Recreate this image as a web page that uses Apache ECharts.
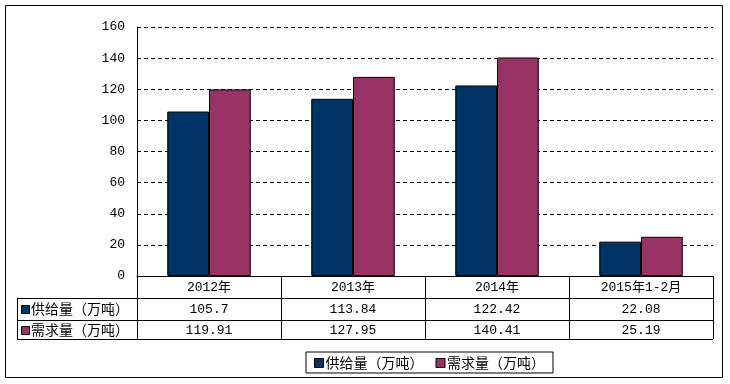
<!DOCTYPE html>
<html><head><meta charset="utf-8">
<script src="https://cdn.jsdelivr.net/npm/echarts@6/dist/echarts.min.js"></script>
<style>html,body{margin:0;padding:0;background:#fff}#c{width:730px;height:384px}</style>
</head><body><div id="c"></div>
<script>
var categories = ['2012年', '2013年', '2014年', '2015年1-2月'];
var supplyName = '供给量（万吨）';
var demandName = '需求量（万吨）';
var supply = [105.7, 113.84, 122.42, 22.08];
var demand = [119.91, 127.95, 140.41, 25.19];
var yTicks = [0, 20, 40, 60, 80, 100, 120, 140, 160];

var C1 = '#003366', C2 = '#993366';
var FONT = '"Liberation Mono","Noto Sans CJK SC",monospace';
var CJK = '"Noto Sans CJK SC",sans-serif';
var GL = 137, GR = 713, GT = 27, GB = 276;
var TL = 17, R1 = 298, R2 = 320, R3 = 339;

var chart = echarts.init(document.getElementById('c'));
function rowAxis(vals, off, margin) {
  return {
    type: 'category', gridIndex: 0, position: 'bottom', offset: off,
    data: vals.map(String),
    axisLine: {show: false}, axisTick: {show: false},
    axisLabel: {color: '#000', fontSize: 13, fontFamily: FONT, margin: margin, interval: 0}
  };
}
chart.setOption({
  animation: false,
  grid: {left: GL, right: 730 - GR, top: GT, bottom: 384 - GB},
  xAxis: [{
    type: 'category', data: categories,
    axisLine: {lineStyle: {color: '#000', width: 1}},
    axisTick: {show: true, length: R3 - GB, lineStyle: {color: '#000'}},
    axisLabel: {color: '#000', fontSize: 13, fontFamily: FONT, margin: 5, interval: 0}
  },
  rowAxis(supply, 22, 5),
  rowAxis(demand, 44, 4)
  ],
  yAxis: {
    type: 'value', min: yTicks[0], max: yTicks[yTicks.length - 1], interval: 20,
    axisLine: {show: true, lineStyle: {color: '#000'}},
    axisTick: {show: false},
    axisLabel: {color: '#000', fontSize: 13, fontFamily: FONT, margin: 12},
    splitLine: {lineStyle: {color: '#000', type: [4, 3], width: 1}}
  },
  legend: {
    left: 306, top: 352, width: 237,
    padding: [4, 8, 3, 8], itemGap: 12,
    borderColor: '#000', borderWidth: 1, borderRadius: 0,
    itemWidth: 9, itemHeight: 9, icon: 'rect',
    textStyle: {color: '#000', fontSize: 14, fontFamily: CJK, padding: [0, 0, 0, -3]},
    data: [
      {name: supplyName, itemStyle: {borderColor: '#000', borderWidth: 1}},
      {name: demandName, itemStyle: {borderColor: '#000', borderWidth: 1}}
    ]
  },
  series: [
    {name: supplyName, type: 'bar', data: supply, barGap: '0%', barCategoryGap: '42%',
     itemStyle: {color: C1, borderColor: '#000', borderWidth: 1}},
    {name: demandName, type: 'bar', data: demand,
     itemStyle: {color: C2, borderColor: '#000', borderWidth: 1}}
  ],
  graphic: [
    {type: 'rect', shape: {x: 5.5, y: 5.5, width: 717, height: 372}, style: {fill: null, stroke: '#000', lineWidth: 1}, silent: true, z: -10},
    {type: 'line', shape: {x1: TL, y1: R1 + 0.5, x2: GR, y2: R1 + 0.5}, style: {stroke: '#000', lineWidth: 1}},
    {type: 'line', shape: {x1: TL, y1: R2 + 0.5, x2: GR, y2: R2 + 0.5}, style: {stroke: '#000', lineWidth: 1}},
    {type: 'line', shape: {x1: TL, y1: R3 + 0.5, x2: GR, y2: R3 + 0.5}, style: {stroke: '#000', lineWidth: 1}},
    {type: 'line', shape: {x1: TL + 0.5, y1: R1, x2: TL + 0.5, y2: R3 + 1}, style: {stroke: '#000', lineWidth: 1}},
    {type: 'rect', shape: {x: 21.5, y: 305.5, width: 8, height: 8}, style: {fill: C1, stroke: '#000', lineWidth: 1}},
    {type: 'text', x: 31, y: 309, style: {text: supplyName, fill: '#000', font: '14px ' + CJK, verticalAlign: 'middle'}},
    {type: 'rect', shape: {x: 21.5, y: 326.5, width: 8, height: 8}, style: {fill: C2, stroke: '#000', lineWidth: 1}},
    {type: 'text', x: 31, y: 330, style: {text: demandName, fill: '#000', font: '14px ' + CJK, verticalAlign: 'middle'}}
  ]
});
</script></body></html>
